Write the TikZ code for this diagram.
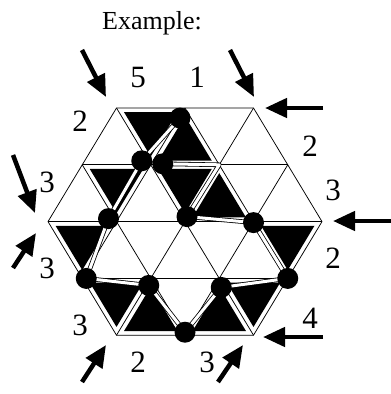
\documentclass[tikz,border=0pt]{standalone}
\usepackage{fontspec}
\setmainfont{Liberation Serif}
\usetikzlibrary{arrows.meta, calc}

\begin{document}
\begin{tikzpicture}[
            x=1pt, y=-1pt,
            line cap=butt,
            grid line/.style={line width=0.75pt},
            cell/.style={fill=black},
            trail/.style={draw=black, line width=0.8pt, double=white, double distance=3pt, line join=round},
            bead/.style={circle, fill=black, inner sep=0pt, minimum size=21pt},
            clue/.style={font=\fontsize{31}{33}\selectfont, anchor=base, inner sep=0pt},
            feed arrow/.style={-{Triangle[length=22pt, width=19pt]}, line width=4.5pt},
        ]
        \useasboundingbox (0,0) rectangle (391,394);
        \def\u{68.5}
        \def\h{56.8}

        % Lattice points of the hexagon, row by row.
        \foreach \row/\cnt/\rowname in {0/3/A,1/4/B,2/5/C,3/4/D,4/3/E}
            \foreach \i in {1,...,\cnt}
                \coordinate (\rowname\i) at ({185+(\i-(\cnt+1)/2)*\u}, {108+\row*\h});

        % Shaded cells, shrunk towards their centres.
        \foreach \p/\q/\s in {A1/A2/B2, A2/B2/B3, B1/B2/C2, B2/B3/C3, B3/C3/C4,
                              C1/C2/D1, C4/C5/D4, D1/D2/E1, D2/E1/E2, D3/E2/E3, D3/D4/E3}
            \fill[cell] ($.854*(\p)+.073*(\q)+.073*(\s)$) -- ($.073*(\p)+.854*(\q)+.073*(\s)$)
                -- ($.073*(\p)+.073*(\q)+.854*(\s)$) -- cycle;

        % Outline and inner lines of the grid.
        \draw[grid line] (A1) -- (A3) -- (C5) -- (E3) -- (E1) -- (C1) -- cycle;
        \draw[grid line] (B1) -- (B4) (C1) -- (C5) (D1) -- (D4);
        \draw[grid line] (A2) -- (D4) (A1) -- (E3) (B1) -- (E2);
        \draw[grid line] (A2) -- (D1) (A3) -- (E1) (B4) -- (E2);

        % Bead positions, a little off the lattice points.
        \coordinate (pA2) at ([shift={(-5,10)}]A2);
        \coordinate (pB2a) at ([shift={(-9,-4)}]B2);
        \coordinate (pB2b) at ([shift={(12,-1)}]B2);
        \coordinate (pC2) at ([shift={(-8,-3)}]C2);
        \coordinate (pC3) at ([shift={(2,-5)}]C3);
        \coordinate (pC4) at ([shift={(0,1)}]C4);
        \coordinate (pD1) at ([shift={(4,0)}]D1);
        \coordinate (pD2) at ([shift={(-2,7)}]D2);
        \coordinate (pD3) at ([shift={(2,9)}]D3);
        \coordinate (pD4) at (D4);
        \coordinate (pE2) at ([shift={(0,-3)}]E2);

        % The trail, drawn as a double line.
        \draw[trail] (pA2) -- (pB2a) -- (pC2) -- (pD1) -- (pD2) -- (pE2) -- (pD3)
            -- (pD4) -- (pC4) -- (pC3) -- (B3) -- (pB2b);

        \foreach \b in {A2,B2a,B2b,C2,C3,C4,D1,D2,D3,D4,E2}
            \node[bead] (b\b) at (p\b) {};

        % Entry arrows around the border.
        \foreach \k/\tx/\ty/\hx/\hy in {1/82/50/106/97, 2/230/50/254/97, 3/323/108/265/108,
                                        4/391/221/333/221, 5/323/337/263/337, 6/218/382/243/345,
                                        7/82/382/106/345, 8/13/268/36/233, 9/13/155/35/213}{
            \coordinate (tail\k) at (\tx,\ty);
            \coordinate (tip\k) at (\hx,\hy);
            \draw[feed arrow] (tail\k) -- (tip\k);
        }

        \node[clue, font=\fontsize{26}{28}\selectfont] (title) at (152,29) {Example:};
        \node[clue] (n5) at (138,87) {5};
        \node[clue] (n1) at (197,87) {1};
        \node[clue] (nw2) at (80,131) {2};
        \node[clue] (ne2) at (310,156) {2};
        \node[clue] (e3) at (333,200) {3};
        \node[clue] (e2) at (333,268) {2};
        \node[clue] (se4) at (310,328) {4};
        \node[clue] (s3) at (207,372) {3};
        \node[clue] (s2) at (138,372) {2};
        \node[clue] (sw3) at (80,335) {3};
        \node[clue] (w3b) at (47,278) {3};
        \node[clue] (w3a) at (47,192) {3};
\end{tikzpicture}
\end{document}
